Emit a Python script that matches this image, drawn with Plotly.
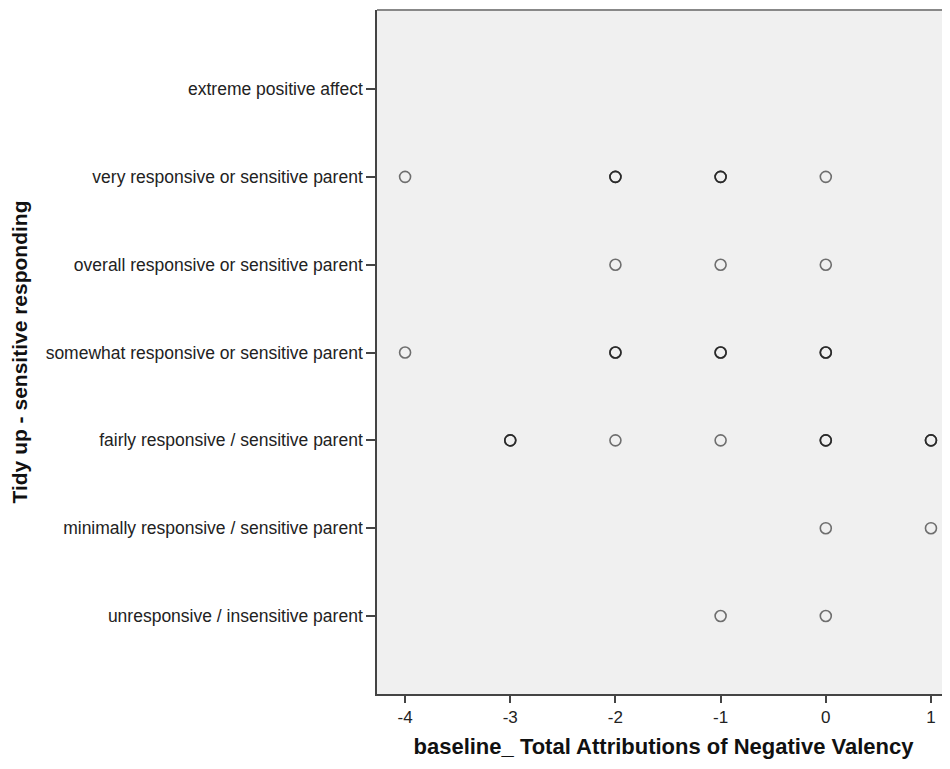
import plotly.graph_objects as go

# Category labels of the y axis (ordinal scale 1..7)
categories = [
    "unresponsive / insensitive parent",
    "minimally responsive / sensitive parent",
    "fairly responsive / sensitive parent",
    "somewhat responsive or sensitive parent",
    "overall responsive or sensitive parent",
    "very responsive or sensitive parent",
    "extreme positive affect",
]
category_codes = [1, 2, 3, 4, 5, 6, 7]

x_ticks = [-4, -3, -2, -1, 0, 1]

# Observations (x = total attributions of negative valency, y = rating code)
# Repeated pairs are overlapping cases (drawn darker in the original).
obs_x = [
    -4, -2, -2, -2, -1, -1, -1, 0,          # very responsive
    -2, -1, 0,                               # overall responsive
    -4, -2, -2, -2, -1, -1, -1, 0, 0, 0,    # somewhat responsive
    -3, -3, -3, -2, -1, 0, 0, 0, 1, 1, 1,   # fairly responsive
    0, 1,                                    # minimally responsive
    -1, 0,                                   # unresponsive
]
obs_y = [
    6, 6, 6, 6, 6, 6, 6, 6,
    5, 5, 5,
    4, 4, 4, 4, 4, 4, 4, 4, 4, 4,
    3, 3, 3, 3, 3, 3, 3, 3, 3, 3, 3,
    2, 2,
    1, 1,
]

fig = go.Figure()
fig.add_trace(go.Scatter(
    x=obs_x, y=obs_y, mode="markers",
    marker=dict(symbol="circle-open", size=11,
                color="rgba(30,30,30,0.62)",
                line=dict(width=1.6, color="rgba(30,30,30,0.62)")),
    showlegend=False, hoverinfo="x+y",
))

font_family = "Liberation Sans, Arial, sans-serif"

fig.update_layout(
    width=942, height=761,
    margin=dict(l=369, r=0, t=2, b=75),
    paper_bgcolor="white",
    plot_bgcolor="#f0f0f0",
    font=dict(family=font_family, size=17, color="#222"),
    xaxis=dict(
        range=[-4.267, 1.181],
        tickvals=x_ticks,
        ticktext=[str(v) for v in x_ticks],
        showgrid=False, zeroline=False,
        showline=True, linecolor="#444", linewidth=1.5,
        ticks="outside", ticklen=7, tickwidth=1.5, tickcolor="#444",
        tickfont=dict(size=17, color="#222"),
        title=dict(text="<b>baseline_ Total Attributions of Negative Valency</b>",
                   font=dict(size=22, color="#111"), standoff=12),
    ),
    yaxis=dict(
        range=[0.112, 7.90],
        tickvals=category_codes,
        ticktext=categories,
        showgrid=False, zeroline=False,
        showline=True, linecolor="#444", linewidth=1.5,
        ticks="outside", ticklen=9, tickwidth=1.5, tickcolor="#444",
        tickfont=dict(size=17.5, color="#222"),
        title=dict(text="<b>Tidy up - sensitive responding</b>",
                   font=dict(size=21, color="#111"), standoff=18),
    ),
    shapes=[dict(type="line", xref="paper", yref="paper",
                 x0=0, x1=1, y0=1, y1=1,
                 line=dict(color="#888", width=2))],
)

fig.write_html("out.html")
